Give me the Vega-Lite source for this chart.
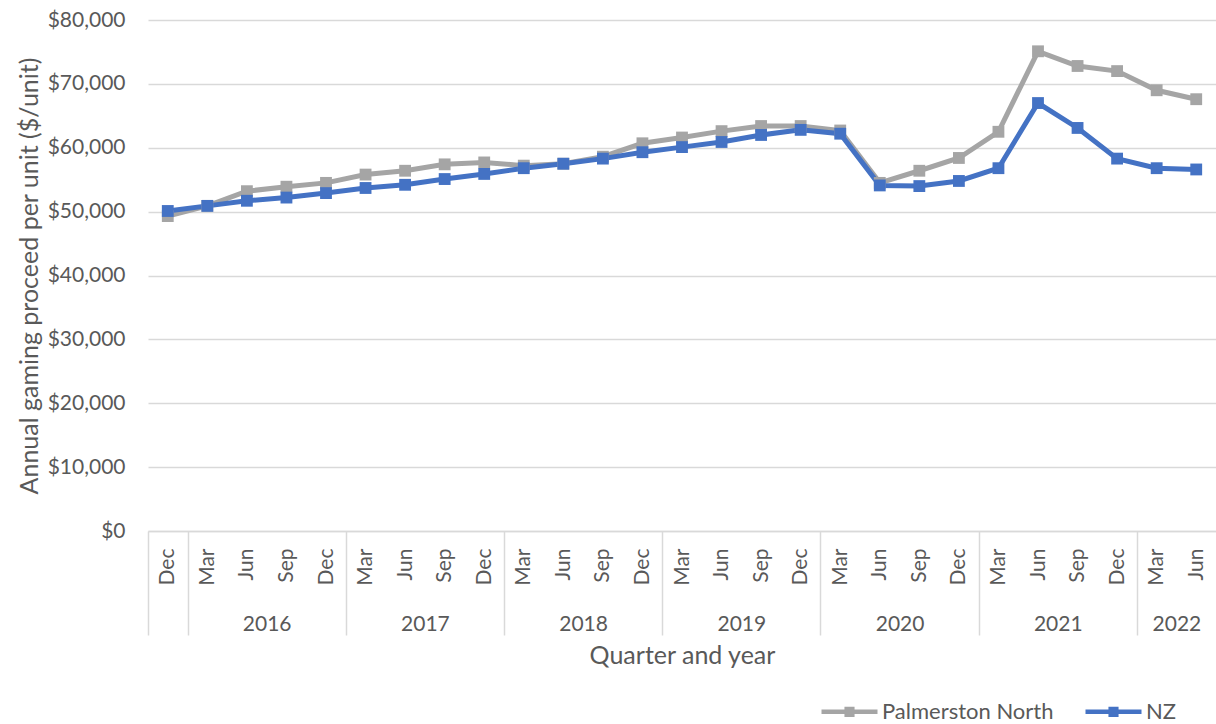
{
  "$schema": "https://vega.github.io/schema/vega-lite/v6.json",
  "autosize": {"type": "none"},
  "padding": {"left": 148, "top": 20, "right": 0, "bottom": 193},
  "width": 1068,
  "height": 511,
  "config": {
    "view": {"stroke": null},
    "font": "Lato",
    "axis": {
      "labelFont": "Lato",
      "titleFont": "Lato",
      "labelColor": "#595959",
      "titleColor": "#595959",
      "labelFontSize": 21,
      "titleFontSize": 25,
      "titleFontWeight": "normal"
    },
    "legend": {"labelFont": "Lato", "labelColor": "#595959", "labelFontSize": 22, "padding": 0, "labelLimit": 400}
  },
  "datasets": {
    "proceeds": [
      {"idx": 0, "series": "Palmerston North", "value": 49300},
      {"idx": 1, "series": "Palmerston North", "value": 50900},
      {"idx": 2, "series": "Palmerston North", "value": 53200},
      {"idx": 3, "series": "Palmerston North", "value": 53900},
      {"idx": 4, "series": "Palmerston North", "value": 54500},
      {"idx": 5, "series": "Palmerston North", "value": 55800},
      {"idx": 6, "series": "Palmerston North", "value": 56400},
      {"idx": 7, "series": "Palmerston North", "value": 57400},
      {"idx": 8, "series": "Palmerston North", "value": 57700},
      {"idx": 9, "series": "Palmerston North", "value": 57200},
      {"idx": 10, "series": "Palmerston North", "value": 57500},
      {"idx": 11, "series": "Palmerston North", "value": 58600},
      {"idx": 12, "series": "Palmerston North", "value": 60700},
      {"idx": 13, "series": "Palmerston North", "value": 61600},
      {"idx": 14, "series": "Palmerston North", "value": 62600},
      {"idx": 15, "series": "Palmerston North", "value": 63400},
      {"idx": 16, "series": "Palmerston North", "value": 63400},
      {"idx": 17, "series": "Palmerston North", "value": 62700},
      {"idx": 18, "series": "Palmerston North", "value": 54500},
      {"idx": 19, "series": "Palmerston North", "value": 56400},
      {"idx": 20, "series": "Palmerston North", "value": 58400},
      {"idx": 21, "series": "Palmerston North", "value": 62500},
      {"idx": 22, "series": "Palmerston North", "value": 75100},
      {"idx": 23, "series": "Palmerston North", "value": 72800},
      {"idx": 24, "series": "Palmerston North", "value": 72000},
      {"idx": 25, "series": "Palmerston North", "value": 69000},
      {"idx": 26, "series": "Palmerston North", "value": 67600},
      {"idx": 0, "series": "NZ", "value": 50100},
      {"idx": 1, "series": "NZ", "value": 50900},
      {"idx": 2, "series": "NZ", "value": 51700},
      {"idx": 3, "series": "NZ", "value": 52200},
      {"idx": 4, "series": "NZ", "value": 52900},
      {"idx": 5, "series": "NZ", "value": 53700},
      {"idx": 6, "series": "NZ", "value": 54200},
      {"idx": 7, "series": "NZ", "value": 55100},
      {"idx": 8, "series": "NZ", "value": 55900},
      {"idx": 9, "series": "NZ", "value": 56800},
      {"idx": 10, "series": "NZ", "value": 57500},
      {"idx": 11, "series": "NZ", "value": 58300},
      {"idx": 12, "series": "NZ", "value": 59300},
      {"idx": 13, "series": "NZ", "value": 60100},
      {"idx": 14, "series": "NZ", "value": 60900},
      {"idx": 15, "series": "NZ", "value": 62000},
      {"idx": 16, "series": "NZ", "value": 62800},
      {"idx": 17, "series": "NZ", "value": 62200},
      {"idx": 18, "series": "NZ", "value": 54100},
      {"idx": 19, "series": "NZ", "value": 54000},
      {"idx": 20, "series": "NZ", "value": 54800},
      {"idx": 21, "series": "NZ", "value": 56800},
      {"idx": 22, "series": "NZ", "value": 67000},
      {"idx": 23, "series": "NZ", "value": 63100},
      {"idx": 24, "series": "NZ", "value": 58300},
      {"idx": 25, "series": "NZ", "value": 56800},
      {"idx": 26, "series": "NZ", "value": 56600}
    ],
    "years": [
      {"year": "", "start": -0.5, "mid": 0},
      {"year": "2016", "start": 0.5, "mid": 2.5},
      {"year": "2017", "start": 4.5, "mid": 6.5},
      {"year": "2018", "start": 8.5, "mid": 10.5},
      {"year": "2019", "start": 12.5, "mid": 14.5},
      {"year": "2020", "start": 16.5, "mid": 18.5},
      {"year": "2021", "start": 20.5, "mid": 22.5},
      {"year": "2022", "start": 24.5, "mid": 25.5}
    ]
  },
  "resolve": {"scale": {"x": "independent"}, "axis": {"x": "independent"}},
  "layer": [
    {
      "data": {"name": "proceeds"},
      "mark": {
        "type": "line",
        "strokeWidth": 5,
        "point": {"shape": "square", "size": 140, "filled": true, "opacity": 1}
      },
      "encoding": {
        "x": {
          "field": "idx",
          "type": "quantitative",
          "scale": {"domain": [-0.5, 26.5], "nice": false, "zero": false},
          "axis": {
            "orient": "bottom",
            "title": null,
            "values": [0,1,2,3,4,5,6,7,8,9,10,11,12,13,14,15,16,17,18,19,20,21,22,23,24,25,26],
            "labelExpr": "['Dec','Mar','Jun','Sep'][datum.value % 4]",
            "labelAngle": -90,
            "labelAlign": "right",
            "labelBaseline": "middle",
            "labelPadding": 17,
            "ticks": false,
            "tickSize": 0,
            "grid": false,
            "domainColor": "#d9d9d9",
            "domainWidth": 1.5,
            "labelOverlap": false,
            "labelFlush": false
          }
        },
        "y": {
          "field": "value",
          "type": "quantitative",
          "scale": {"domain": [0, 80000], "nice": false},
          "axis": {
            "title": "Annual gaming proceed per unit ($/unit)",
            "values": [0, 10000, 20000, 30000, 40000, 50000, 60000, 70000, 80000],
            "format": "$,.0f",
            "domain": false,
            "ticks": false,
            "tickSize": 0,
            "labelPadding": 23,
            "titlePadding": 5,
            "gridColor": "#d9d9d9",
            "gridWidth": 1.5
          }
        },
        "color": {
          "field": "series",
          "type": "nominal",
          "sort": ["Palmerston North", "NZ"],
          "scale": {"domain": ["Palmerston North", "NZ"], "range": ["#a5a5a5", "#4472c4"]},
          "legend": {
            "title": null,
            "orient": "none",
            "direction": "horizontal",
            "legendX": 671,
            "legendY": 661,
            "symbolType": "M-1,0H1M-0.1,-0.1H0.1V0.1H-0.1Z",
            "symbolSize": 3136,
            "symbolStrokeWidth": 4.5,
            "symbolOpacity": 1,
            "labelOffset": 2,
            "columnPadding": 22
          }
        }
      }
    },
    {
      "data": {"name": "years"},
      "mark": {"type": "rule", "opacity": 0},
      "encoding": {
        "x": {
          "field": "start",
          "type": "quantitative",
          "scale": {"domain": [-0.5, 26.5], "nice": false, "zero": false},
          "axis": {
            "orient": "bottom",
            "title": null,
            "values": [-0.5, 0.5, 4.5, 8.5, 12.5, 16.5, 20.5, 24.5],
            "labels": false,
            "domain": false,
            "grid": false,
            "ticks": true,
            "tickSize": 104,
            "tickColor": "#d9d9d9",
            "tickWidth": 1.5
          }
        }
      }
    },
    {
      "data": {"name": "years"},
      "mark": {"type": "rule", "opacity": 0},
      "encoding": {
        "x": {
          "field": "mid",
          "type": "quantitative",
          "scale": {"domain": [-0.5, 26.5], "nice": false, "zero": false},
          "axis": {
            "orient": "bottom",
            "title": "Quarter and year",
            "values": [2.5, 6.5, 10.5, 14.5, 18.5, 22.5, 25.5],
            "labelExpr": "'' + (2016 + floor((datum.value - 0.5) / 4))",
            "labelPadding": 82,
            "labelBaseline": "top",
            "labelFlush": false,
            "labelOverlap": false,
            "domain": false,
            "grid": false,
            "ticks": false,
            "tickSize": 0,
            "titlePadding": 9
          }
        }
      }
    }
  ]
}
